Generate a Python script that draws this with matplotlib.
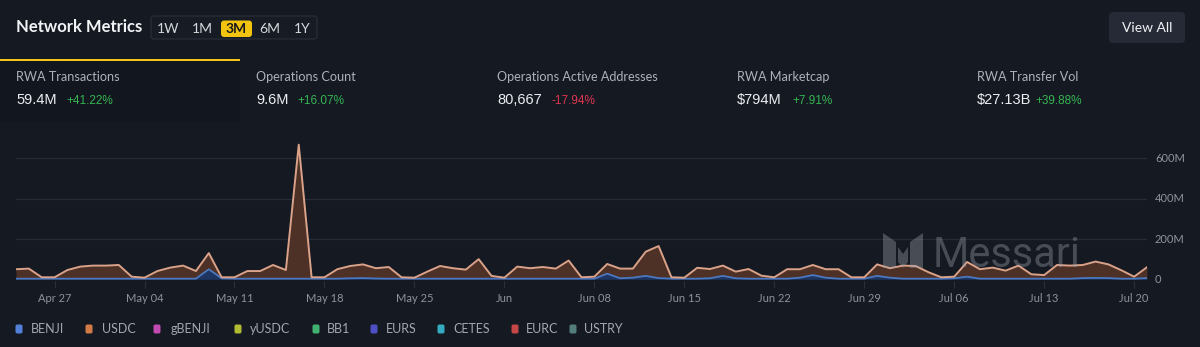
import matplotlib
matplotlib.use("Agg")
import matplotlib.pyplot as plt
import matplotlib.dates as mdates
from matplotlib.patches import FancyBboxPatch, Rectangle, Polygon
from matplotlib.ticker import FuncFormatter, FixedLocator
import pandas as pd
import numpy as np

# ---------------- data ----------------
start_date = "2025-04-24"
n_days = 89
benji = [3, 3, 3, 3, 3, 3, 3, 3, 3, 3,
         3, 3, 3, 3, 3, 50, 5, 3, 3, 3,
         3, 3, 3, 3, 3, 3, 5, 6, 4, 3,
         3, 3, 3, 3, 3, 3, 3, 3, 3, 3,
         3, 3, 3, 3, 3, 3, 28, 5, 8, 17,
         6, 3, 3, 3, 5, 17, 5, 3, 3, 3,
         3, 8, 21, 8, 3, 3, 3, 17, 8, 3,
         3, 3, 3, 5, 13, 3, 3, 3, 3, 3,
         3, 3, 3, 6, 7, 6, 3, 3, 6]
usdc = [47, 50, 7, 7, 43, 60, 65, 65, 68, 10,
        5, 38, 55, 65, 38, 80, 5, 7, 38, 38,
        68, 43, 665, 7, 7, 47, 61, 68, 51, 58,
        7, 5, 35, 63, 52, 45, 97, 14, 5, 60,
        52, 58, 50, 90, 7, 10, 48, 48, 45, 120,
        159, 7, 5, 54, 46, 51, 33, 48, 15, 7,
        47, 42, 50, 42, 47, 7, 7, 57, 47, 65,
        63, 32, 7, 8, 73, 47, 55, 40, 65, 22,
        18, 68, 65, 65, 81, 68, 42, 10, 54]

legend_names = ["BENJI", "USDC", "gBENJI", "yUSDC", "BB1", "EURS", "CETES", "EURC", "USTRY"]
legend_colors = ["#5b8def", "#e8864a", "#d450c0", "#c3cf35", "#48c47a",
                 "#5555d8", "#38bcd4", "#d94c4c", "#5b8a86"]

periods = ["1W", "1M", "3M", "6M", "1Y"]
active_period = "3M"

metric_labels = ["RWA Transactions", "Operations Count", "Operations Active Addresses",
                 "RWA Marketcap", "RWA Transfer Vol"]
metric_values = ["59.4M", "9.6M", "80,667", "$794M", "$27.13B"]
metric_changes = ["+41.22%", "+16.07%", "-17.94%", "+7.91%", "+39.88%"]

y_ticks = [0, 200e6, 400e6, 600e6]
y_tick_labels = ["0", "200M", "400M", "600M"]

# ---------------- figure ----------------
W, H = 1200, 347
BG = "#141922"
fig = plt.figure(figsize=(W / 100, H / 100), dpi=100, facecolor=BG)

bg = fig.add_axes([0, 0, 1, 1], zorder=0)
bg.set_xlim(0, W)
bg.set_ylim(H, 0)
bg.axis("off")
bg.set_facecolor(BG)

# metrics strip
bg.add_patch(Rectangle((0, 61), 240, 61, facecolor="#12161e", edgecolor="none"))
bg.add_patch(Rectangle((0, 59), 240, 2.2, facecolor="#f2c318", edgecolor="none"))

UI = "Lato"
NUM = "Liberation Sans"

bg.text(16, 27, "Network Metrics", fontsize=12, fontweight="bold", color="#f2f3f5",
        family=UI, va="center", ha="left")

# period selector
bg.add_patch(FancyBboxPatch((151, 16), 166, 23, boxstyle="round,pad=0,rounding_size=3",
                            facecolor="#161b24", edgecolor="#2a303b", linewidth=0.8))
period_x = [168, 202, 236, 270, 302]
for p, px in zip(periods, period_x):
    if p == active_period:
        bg.add_patch(FancyBboxPatch((221, 20.5), 31, 16.5, boxstyle="round,pad=0,rounding_size=3",
                                    facecolor="#f2c40f", edgecolor="none"))
        bg.text(px, 28.5, p, fontsize=10, fontweight="bold", color="#15171c", family=UI,
                ha="center", va="center")
    else:
        bg.text(px, 28.5, p, fontsize=10, color="#d5d8dd", family=UI, ha="center", va="center")

# View All button
bg.add_patch(FancyBboxPatch((1109, 12), 76, 31, boxstyle="round,pad=0,rounding_size=4",
                            facecolor="#252a36", edgecolor="none"))
bg.text(1147, 28, "View All", fontsize=10, color="#f0f1f3", family=UI, ha="center", va="center")

# metrics
metric_x = [16, 256, 497, 737, 977]
change_x = [66, 297, 551, 792, 1035]
for lbl, val, chg, mx, cx in zip(metric_labels, metric_values, metric_changes, metric_x, change_x):
    bg.text(mx, 77, lbl, fontsize=9.1, color="#aeb2b8", family=UI, ha="left", va="center")
    bg.text(mx, 100, val, fontsize=10.5, color="#eceef1", family=NUM, ha="left", va="center")
    col = "#e0364f" if chg.startswith("-") else "#35b552"
    bg.text(cx, 100.5, chg, fontsize=8.5, color=col, family=NUM, ha="left", va="center")

# legend
leg_marker_x = [19, 89, 157, 238, 316, 374, 441, 515, 573]
leg_text_x = [31, 102, 171, 250, 327, 386, 453, 526, 584]
for name, colr, mxp, tx in zip(legend_names, legend_colors, leg_marker_x, leg_text_x):
    bg.add_patch(FancyBboxPatch((mxp - 3.5, 324.5), 7, 9, boxstyle="round,pad=0,rounding_size=1.8",
                                facecolor=colr, edgecolor="none", alpha=0.9))
    bg.text(tx, 329, name, fontsize=9, color="#a3a7ae", family=UI, ha="left", va="center")

# ---------------- chart ----------------
dates = pd.date_range(start_date, periods=n_days, freq="D")
b = np.array(benji) * 1e6
u = np.array(usdc) * 1e6
total = b + u

px_per_unit = 40.3 / 200e6
zero_px = 279.3
ax_top, ax_bot = 140.0, 281.0
ymin = -(ax_bot - zero_px) / px_per_unit
ymax = (zero_px - ax_top) / px_per_unit
x_left, x_right = 16.0, 1147.0

ax = fig.add_axes([x_left / W, 1 - ax_bot / H, (x_right - x_left) / W, (ax_bot - ax_top) / H],
                  zorder=1)
ax.set_facecolor("none")
ax.set_xlim(dates[0], dates[-1])
ax.set_ylim(ymin, ymax)

for yt in y_ticks[1:]:
    ax.axhline(yt, color="#262c37", linewidth=0.9, zorder=0)

ax.fill_between(dates, 0, b, color="#1d3560", linewidth=0, zorder=2)
ax.fill_between(dates, b, total, color="#4d3126", linewidth=0, zorder=2)
ax.plot(dates, total, color="#dba28a", linewidth=1.4, zorder=4)
ax.plot(dates, b, color="#4a78c2", linewidth=1.3, zorder=3)

for s in ax.spines.values():
    s.set_visible(False)

tick_dates = pd.date_range("2025-04-27", "2025-07-20", freq="7D")
ax.xaxis.set_major_locator(FixedLocator(mdates.date2num(tick_dates)))


def fmt_date(x, pos):
    d = mdates.num2date(x)
    if d.day == 1:
        return d.strftime("%b")
    return d.strftime("%b %d")


ax.xaxis.set_major_formatter(FuncFormatter(fmt_date))
ax.tick_params(axis="x", length=5, width=0.8, color="#2a303b", labelcolor="#8e939b",
               labelsize=8, pad=4)
for t in ax.get_xticklabels():
    t.set_family(UI)
ax.set_yticks([])

for yt, lab in zip(y_ticks, y_tick_labels):
    ypx = zero_px - yt * px_per_unit
    bg.text(1155, ypx, lab, fontsize=8, color="#8e939b", family=UI, ha="left", va="center")

# ---------------- watermark ----------------
fg = fig.add_axes([0, 0, 1, 1], zorder=5)
fg.set_xlim(0, W)
fg.set_ylim(H, 0)
fg.axis("off")
fg.patch.set_alpha(0)
wm = dict(facecolor="#9ba1aa", edgecolor="none", alpha=0.38)
fg.add_patch(Polygon([(883, 233), (896, 242), (896, 268), (883, 268)], closed=True, **wm))
fg.add_patch(Polygon([(923, 233), (910, 242), (910, 268), (923, 268)], closed=True, **wm))
fg.add_patch(Polygon([(898, 247), (903, 254), (908, 247), (908, 262), (903, 268), (898, 262)],
                     closed=True, **wm))
fg.text(933, 267, "Messari", fontsize=30, color="#9ba1aa", alpha=0.38, family="Roboto",
        ha="left", va="baseline")

fig.savefig("out.png", dpi=100, facecolor=BG)
